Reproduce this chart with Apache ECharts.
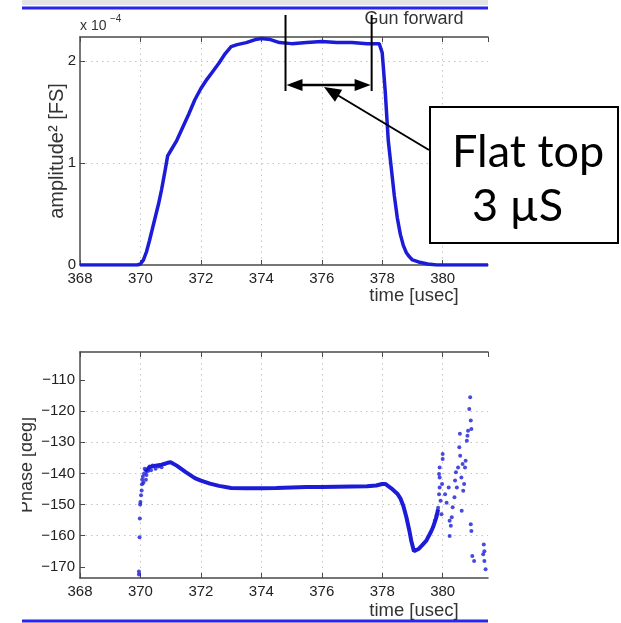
<!DOCTYPE html>
<html><head><meta charset="utf-8">
<script src="https://cdn.jsdelivr.net/npm/echarts@6/dist/echarts.min.js"></script>
<style>html,body{margin:0;padding:0;background:#fff}#c{width:621px;height:623px}</style>
</head><body><div id="c"></div>
<script>
// ---- data ----
const xTicks = [368, 370, 372, 374, 376, 378, 380];
const ampTicks = [0, 1, 2];
const phaseTicks = [-170, -160, -150, -140, -130, -120, -110];

// amplitude^2 in units of 1e-4 FS
const ampTime  = [368, 369, 369.9, 370.0, 370.1, 370.2, 370.3, 370.4, 370.5, 370.6, 370.7, 370.8, 370.9, 371.0, 371.2, 371.4, 371.6, 371.8, 372.0, 372.2, 372.4, 372.6, 372.8, 373.0, 373.2, 373.5, 373.8, 374.0, 374.3, 374.6, 375.0, 375.5, 376.0, 376.5, 377.0, 377.5, 377.9, 378.0, 378.1, 378.2, 378.3, 378.4, 378.5, 378.6, 378.7, 378.8, 378.9, 379.0, 379.2, 379.5, 379.8, 380.5, 381.5];
const ampValue = [0, 0, 0, 0.01, 0.05, 0.13, 0.24, 0.36, 0.48, 0.60, 0.74, 0.90, 1.07, 1.12, 1.22, 1.35, 1.48, 1.62, 1.73, 1.82, 1.90, 1.98, 2.07, 2.14, 2.16, 2.18, 2.21, 2.22, 2.21, 2.18, 2.17, 2.18, 2.19, 2.18, 2.18, 2.17, 2.17, 2.08, 1.70, 1.22, 0.95, 0.68, 0.46, 0.30, 0.19, 0.12, 0.08, 0.05, 0.03, 0.01, 0, 0, 0];

// phase [deg], continuous part of the trace
const phaseTime  = [370.15, 370.3, 370.5, 370.7, 370.9, 371.0, 371.2, 371.5, 371.8, 372.0, 372.3, 372.6, 373.0, 373.5, 374.0, 374.5, 375.0, 375.5, 376.0, 376.5, 377.0, 377.5, 377.8, 378.0, 378.1, 378.3, 378.5, 378.6, 378.7, 378.8, 378.9, 378.96, 379.05, 379.1, 379.2, 379.3, 379.46, 379.6, 379.68, 379.79, 379.85];
const phaseValue = [-139.5, -138.0, -137.5, -137.2, -136.6, -136.4, -137.5, -139.6, -141.5, -142.3, -143.3, -144.0, -144.7, -144.8, -144.8, -144.7, -144.5, -144.4, -144.4, -144.3, -144.2, -144.1, -143.9, -143.4, -143.4, -144.8, -146.5, -148.0, -150.5, -154.1, -158.5, -161.6, -165.0, -165.4, -164.3, -163.3, -161.6, -159.0, -157.3, -154.1, -151.5];

// phase [deg], scattered samples
const phaseDotTime  = [369.95, 369.95, 369.97, 369.98, 369.99, 370.0, 370.02, 370.04, 370.05, 370.06, 370.08, 370.1, 370.12, 370.14, 370.18, 370.2, 370.25, 370.3, 370.35, 370.4, 370.5, 370.6, 370.7, 370.8,
  379.74, 379.79, 379.85, 379.88, 379.9, 379.88, 379.9, 379.9, 379.93, 379.96, 380.0, 380.0, 379.98, 380.08, 380.13, 380.2, 380.23, 380.27, 380.23, 380.3, 380.33, 380.39, 380.41, 380.44, 380.47, 380.51, 380.55, 380.57, 380.58, 380.62, 380.66, 380.68, 380.63, 380.71, 380.74, 380.76, 380.8, 380.84, 380.88, 380.91, 380.93, 380.95, 380.82, 380.93, 380.95, 380.98, 381.04, 381.34, 381.36, 381.38, 381.42, 381.38];
const phaseDotValue = [-172.5, -171.5, -160.5, -154.5, -150.0, -149.2, -147.0, -145.5, -143.5, -142.0, -141.0, -143.0, -140.0, -138.5, -142.0, -140.5, -139.2, -137.8, -139.0, -137.5, -138.5, -137.8, -138.0, -137.0,
  -155.2, -153.7, -151.0, -146.7, -144.5, -140.2, -138.1, -141.3, -148.8, -153.1, -133.8, -135.4, -143.4, -146.7, -149.4, -144.5, -155.2, -156.8, -160.1, -154.1, -150.9, -147.7, -142.3, -139.6, -144.5, -138.1, -131.6, -127.3, -134.3, -141.3, -137.0, -145.6, -152.0, -143.4, -138.1, -135.9, -129.5, -126.3, -119.3, -115.5, -123.0, -125.7, -127.9, -156.3, -158.5, -166.5, -168.1, -166.0, -162.8, -168.1, -170.8, -165.0];

// annotation (flat top marker), in time units
const flatTopStart = 374.8;
const flatTopEnd = 377.65;

// ---- chart ----
const zip = (a, b) => a.map((v, i) => [v, b[i]]);
const BLUE = '#1c1cd8';
const FRAME = '#4a4a4a';
const FONT = 'Liberation Sans';
const gridLine = { show: true, lineStyle: { color: '#c4c4c4', type: [1.5, 4], width: 1 }, showMaxLine: false, showMinLine: false };
const fmtX = v => xTicks.includes(v) ? String(v) : '';
const minusFmt = v => String(v).replace('-', '\u2212');

function xAxes(gi) {
  return [
    { gridIndex: gi, type: 'value', position: 'bottom', min: 368, max: 381.5, interval: 2,
      axisLine: { show: true, onZero: false, lineStyle: { color: FRAME, width: 1.5 } },
      axisTick: { show: true, inside: true, length: 5, lineStyle: { color: FRAME } },
      axisLabel: { formatter: fmtX, color: '#222', fontSize: 15, fontFamily: FONT, margin: 6, showMaxLabel: false },
      splitLine: gridLine },
    { gridIndex: gi, type: 'value', position: 'top', min: 368, max: 381.5, interval: 2,
      axisLine: { show: true, onZero: false, lineStyle: { color: FRAME, width: 1.5 } },
      axisTick: { show: true, inside: true, length: 5, lineStyle: { color: FRAME } },
      axisLabel: { show: false }, splitLine: { show: false } }
  ];
}

const chart = echarts.init(document.getElementById('c'), null, { renderer: 'canvas' });
chart.setOption({
  animation: false,
  backgroundColor: '#fff',
  grid: [
    { left: 80, right: 133, top: 37, bottom: 358 },
    { left: 80, right: 133, top: 352, bottom: 45 }
  ],
  xAxis: [...xAxes(0), ...xAxes(1)],
  yAxis: [
    { gridIndex: 0, type: 'value', min: 0, max: 2.235, interval: 1,
      name: 'amplitude\u00b2 [FS]', nameLocation: 'middle', nameGap: 13, nameRotate: 90, nameMoveOverlap: false,
      nameTextStyle: { fontSize: 20, color: '#333', fontFamily: FONT },
      axisLine: { show: true, lineStyle: { color: FRAME, width: 1.5 } },
      axisTick: { show: true, inside: true, length: 5, lineStyle: { color: FRAME } },
      axisLabel: { formatter: v => ampTicks.includes(v) ? String(v) : '', color: '#222', fontSize: 15, fontFamily: FONT, margin: 4, showMaxLabel: false },
      splitLine: gridLine },
    { gridIndex: 1, type: 'value', min: -173.6, max: -101,
      name: 'Phase [deg]', nameLocation: 'middle', nameGap: 44, nameRotate: 90, nameMoveOverlap: false,
      nameTextStyle: { fontSize: 18, color: '#333', fontFamily: FONT },
      axisLine: { show: true, lineStyle: { color: FRAME, width: 1.5 } },
      axisTick: { show: true, inside: true, length: 5, customValues: phaseTicks, lineStyle: { color: FRAME } },
      axisLabel: { customValues: phaseTicks, formatter: minusFmt, color: '#222', fontSize: 15, fontFamily: FONT, margin: 5 },
      splitLine: gridLine }
  ],
  series: [
    { type: 'line', xAxisIndex: 0, yAxisIndex: 0, data: zip(ampTime, ampValue), showSymbol: false,
      lineStyle: { color: BLUE, width: 3.5 } },
    { type: 'line', xAxisIndex: 2, yAxisIndex: 1, data: zip(phaseTime, phaseValue), showSymbol: false,
      lineStyle: { color: BLUE, width: 4 } },
    { type: 'scatter', xAxisIndex: 2, yAxisIndex: 1, data: zip(phaseDotTime, phaseDotValue), symbolSize: 4,
      itemStyle: { color: BLUE } }
  ]
});

// ---- slide decorations & annotation ----
const xa = chart.convertToPixel({ xAxisIndex: 0 }, flatTopStart);
const xb = chart.convertToPixel({ xAxisIndex: 0 }, flatTopEnd);
const arrowY = 85;
function head(tip, from, len, half) {
  const dx = tip[0] - from[0], dy = tip[1] - from[1], L = Math.hypot(dx, dy);
  const ux = dx / L, uy = dy / L, bx = tip[0] - ux * len, by = tip[1] - uy * len;
  return [[tip[0], tip[1]], [bx - uy * half, by + ux * half], [bx + uy * half, by - ux * half]];
}
const ptrTip = [324, 87], ptrTail = [429, 150];
const blk = { fill: '#000' };
chart.setOption({
  graphic: [
    { type: 'rect', z: 100, shape: { x: 0, y: 0, width: 22, height: 623 }, style: { fill: '#fff' } },
    { type: 'rect', z: 100, shape: { x: 22, y: 0, width: 466, height: 5 }, style: { fill: '#e4e4e4' } },
    { type: 'line', z: 100, shape: { x1: 22, y1: 8, x2: 488, y2: 8 }, style: { stroke: '#2727ee', lineWidth: 3 } },
    { type: 'line', z: 100, shape: { x1: 22, y1: 621, x2: 488, y2: 621 }, style: { stroke: '#2727ee', lineWidth: 3 } },
    { type: 'text', z: 100, x: 414, y: 19, style: { text: 'Gun forward', fontSize: 18, fontFamily: FONT, fill: '#333', align: 'center', verticalAlign: 'middle' } },
    { type: 'text', z: 100, x: 414, y: 296, style: { text: 'time [usec]', fontSize: 18.5, fontFamily: FONT, fill: '#333', align: 'center', verticalAlign: 'middle' } },
    { type: 'text', z: 100, x: 414, y: 611, style: { text: 'time [usec]', fontSize: 18.5, fontFamily: FONT, fill: '#333', align: 'center', verticalAlign: 'middle' } },
    { type: 'text', z: 100, x: 80, y: 26, style: { text: 'x 10', fontSize: 14, fontFamily: FONT, fill: '#333', align: 'left', verticalAlign: 'middle' } },
    { type: 'text', z: 100, x: 110, y: 19, style: { text: '\u22124', fontSize: 10, fontFamily: FONT, fill: '#333', align: 'left', verticalAlign: 'middle' } },
    { type: 'line', z: 110, shape: { x1: xa, y1: 15, x2: xa, y2: 91 }, style: { stroke: '#000', lineWidth: 2 } },
    { type: 'line', z: 110, shape: { x1: xb, y1: 15, x2: xb, y2: 91 }, style: { stroke: '#000', lineWidth: 2 } },
    { type: 'line', z: 110, shape: { x1: xa + 10, y1: arrowY, x2: xb - 10, y2: arrowY }, style: { stroke: '#000', lineWidth: 2.5 } },
    { type: 'polygon', z: 110, shape: { points: head([xa + 1, arrowY], [xb, arrowY], 16, 6) }, style: blk },
    { type: 'polygon', z: 110, shape: { points: head([xb - 1, arrowY], [xa, arrowY], 16, 6) }, style: blk },
    { type: 'line', z: 110, shape: { x1: ptrTail[0], y1: ptrTail[1], x2: ptrTip[0] + 10, y2: ptrTip[1] + 6 }, style: { stroke: '#000', lineWidth: 2 } },
    { type: 'polygon', z: 110, shape: { points: head(ptrTip, ptrTail, 17, 7) }, style: blk },
    { type: 'rect', z: 110, shape: { x: 430, y: 107, width: 188, height: 136 }, style: { fill: '#fff', stroke: '#000', lineWidth: 2 } },
    { type: 'text', z: 120, x: 452, y: 152, style: { text: 'Flat top', fontSize: 45, fontFamily: 'Lato', fill: '#000', align: 'left', verticalAlign: 'middle' } },
    { type: 'text', z: 120, x: 472, y: 206, style: { text: '3 \u00b5S', fontSize: 45, fontFamily: 'Lato', fill: '#000', align: 'left', verticalAlign: 'middle' } }
  ]
});
</script>
</body></html>
